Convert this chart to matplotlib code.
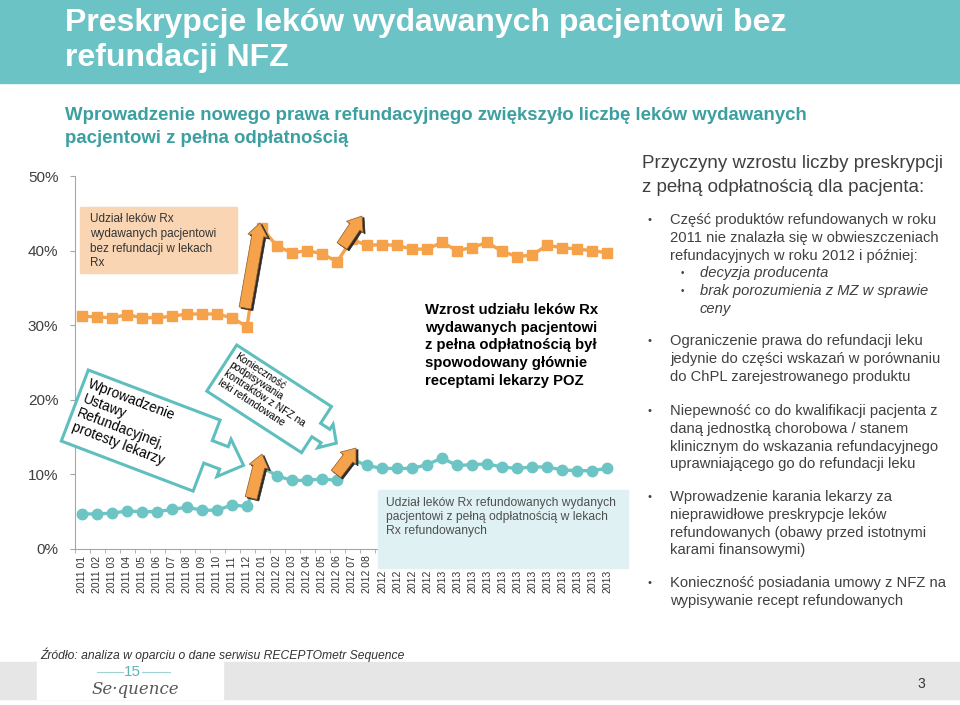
import numpy as np
import matplotlib
matplotlib.use("Agg")
import matplotlib.pyplot as plt
from matplotlib.patches import Rectangle, Polygon, FancyArrow

# months on the x axis
months = ([f"2011 {m:02d}" for m in range(1, 13)]
          + [f"2012 {m:02d}" for m in range(1, 9)]
          + ["2012"] * 4 + ["2013"] * 12)

# share of Rx drugs dispensed without reimbursement (%)
non_refund = [31.2, 31.1, 31.0, 31.4, 31.0, 31.0, 31.2, 31.5, 31.5, 31.5, 31.0, 29.8,
              43.0, 40.6, 39.7, 40.0, 39.6, 38.5, 41.5,
              40.7, 40.8, 40.7, 40.2, 40.2, 41.1, 40.0, 40.4, 41.1, 39.9, 39.2, 39.4,
              40.7, 40.4, 40.2, 40.0, 39.7]
# share of refundable Rx drugs dispensed at full price (%)
full_pay = [4.7, 4.7, 4.8, 5.1, 5.0, 5.0, 5.3, 5.6, 5.2, 5.2, 5.9, 5.7,
            11.0, 9.8, 9.2, 9.2, 9.4, 9.2, 12.0,
            11.2, 10.8, 10.8, 10.8, 11.3, 12.2, 11.2, 11.3, 11.4, 11.0, 10.8, 11.0,
            11.0, 10.6, 10.5, 10.5, 10.8]
y_ticks = [0, 10, 20, 30, 40, 50]

ORANGE = "#f6a24a"
TEAL = "#6cc5c4"
BANNER = "#6cc3c6"
DARK_TEAL = "#3c9fa0"
GREY_TXT = "#404040"

plt.rcParams["font.family"] = ["Liberation Sans", "DejaVu Sans"]

fig = plt.figure(figsize=(9.6, 7.05), dpi=100)

# chart axes (pixel geometry of the slide: x -0.5 -> 74.5px, y 0% -> 549px)
ax = fig.add_axes([74.5 / 960, 1 - 549 / 705, 540 / 960, 373 / 705])
x = np.arange(len(months))
ax.plot(x, non_refund, color=ORANGE, lw=2.4, marker="s", ms=7, zorder=3)
ax.plot(x, full_pay, color=TEAL, lw=2.4, marker="o", ms=7.5, zorder=3)
ax.set_xlim(-0.5, len(months) - 0.5)
ax.set_ylim(0, 50)
ax.set_facecolor("none")
for s in ["top", "right"]:
    ax.spines[s].set_visible(False)
for s in ["left", "bottom"]:
    ax.spines[s].set_color("#a6a6a6")
ax.set_yticks(y_ticks)
ax.set_yticklabels([f"{v}%" for v in y_ticks])
ax.tick_params(axis="y", length=3.6, color="#a6a6a6", pad=8, labelsize=11,
               labelcolor=GREY_TXT)
ax.set_xticks([])
ax.set_xticks(np.arange(-0.5, len(months), 1), minor=True)
ax.tick_params(axis="x", which="minor", length=3, color="#a6a6a6")
for i, lab in enumerate(months):
    ax.text(i, -(593 - 549) / 373, lab, transform=ax.get_xaxis_transform(),
            rotation=90, ha="center", va="bottom", fontsize=7.5, color="#333333")

# overlay in slide pixel coordinates
ov = fig.add_axes([0, 0, 1, 1], zorder=5)
ov.set_xlim(0, 960)
ov.set_ylim(705, 0)
ov.axis("off")
ov.patch.set_alpha(0)

# banner + titles
ov.add_patch(Rectangle((0, 0), 960, 83, color=BANNER, zorder=1))
ov.text(65, 31, "Preskrypcje leków wydawanych pacjentowi bez", fontsize=23,
        fontweight="bold", color="white", va="baseline")
ov.text(65, 66, "refundacji NFZ", fontsize=23, fontweight="bold",
        color="white", va="baseline")
ov.text(65, 120, "Wprowadzenie nowego prawa refundacyjnego zwiększyło liczbę leków wydawanych",
        fontsize=13.4, fontweight="bold", color=DARK_TEAL, va="baseline")
ov.text(65, 143, "pacjentowi z pełna odpłatnością", fontsize=13.4, fontweight="bold",
        color=DARK_TEAL, va="baseline")

ov.text(642, 168, "Przyczyny wzrostu liczby preskrypcji", fontsize=13.5,
        color=GREY_TXT, va="baseline")
ov.text(642, 192, "z pełną odpłatnością dla pacjenta:", fontsize=13.5,
        color=GREY_TXT, va="baseline")

# boxes
ov.add_patch(Rectangle((80, 207), 157, 66, color="#f9d5b3", zorder=2))
for k, line in enumerate(["Udział leków Rx", "wydawanych pacjentowi",
                          "bez refundacji w lekach", "Rx"]):
    ov.text(90, 219 + 14.8 * k, line, fontsize=8.5, color="#333333", va="center", zorder=3)

ov.add_patch(Rectangle((378, 490), 250, 78, color="#dff1f2", zorder=2))
for k, line in enumerate(["Udział leków Rx refundowanych wydanych",
                          "pacjentowi z pełną odpłatnością w lekach",
                          "Rx refundowanych"]):
    ov.text(386, 503 + 14.2 * k, line, fontsize=8.7, color="#505050", va="center", zorder=3)

for k, line in enumerate(["Wzrost udziału leków Rx", "wydawanych pacjentowi",
                          "z pełna odpłatnością był", "spowodowany głównie",
                          "receptami lekarzy POZ"]):
    ov.text(425, 310 + 17.7 * k, line, fontsize=10.7, fontweight="bold", color="black",
            va="center", zorder=3)

# right hand bullets
step = 17.8
blocks = [
    (220, ["Część produktów refundowanych w roku",
           "2011 nie znalazła się w obwieszczeniach",
           "refundacyjnych w roku 2012 i później:"],
     [["decyzja producenta"], ["brak porozumienia z MZ w sprawie", "ceny"]]),
    (341, ["Ograniczenie prawa do refundacji leku",
           "jedynie do części wskazań w porównaniu",
           "do ChPL zarejestrowanego produktu"], []),
    (411, ["Niepewność co do kwalifikacji pacjenta z",
           "daną jednostką chorobowa / stanem",
           "klinicznym do wskazania refundacyjnego",
           "uprawniającego go do refundacji leku"], []),
    (497, ["Wprowadzenie karania lekarzy za",
           "nieprawidłowe preskrypcje leków",
           "refundowanych (obawy przed istotnymi",
           "karami finansowymi)"], []),
    (583, ["Konieczność posiadania umowy z NFZ na",
           "wypisywanie recept refundowanych"], []),
]
for y0, lines, subs in blocks:
    ov.text(647, y0, "•", fontsize=8, color=GREY_TXT, va="center")
    yy = y0
    for line in lines:
        ov.text(670, yy, line, fontsize=10.6, color=GREY_TXT, va="center")
        yy += step
    for sub in subs:
        ov.text(681, yy, "•", fontsize=7, color=GREY_TXT, va="center")
        for line in sub:
            ov.text(700, yy, line, fontsize=10.6, style="italic", color=GREY_TXT, va="center")
            yy += step


# rotated arrow callouts
def callout(tl, ang, w, h, neck_end, tip, cy, neck_hw, head_hw, text, fs, pad, ls):
    a = np.radians(ang)
    u = np.array([np.cos(a), np.sin(a)])
    v = np.array([-np.sin(a), np.cos(a)])
    loc = [(0, 0), (w, 0), (w, cy - neck_hw), (neck_end, cy - neck_hw),
           (neck_end, cy - head_hw), (tip, cy), (neck_end, cy + head_hw),
           (neck_end, cy + neck_hw), (w, cy + neck_hw), (w, h), (0, h)]
    pts = [np.array(tl) + px * u + py * v for px, py in loc]
    ov.add_patch(Polygon(pts, closed=True, facecolor="white", edgecolor="#5fbfbf",
                         lw=2.2, joinstyle="miter", zorder=4))
    p = np.array(tl) + pad[0] * u + pad[1] * v
    ov.text(p[0], p[1], text, rotation=-ang, rotation_mode="anchor", ha="left",
            va="top", fontsize=fs, color="black", linespacing=ls, zorder=5)


callout((88.3, 370), 20.8, 141, 76, 158, 179, 34, 12, 20,
        "Wprowadzenie\nUstawy\nRefundacyjnej,\nprotesty lekarzy", 10, (5, 6), 1.1)
callout((236.7, 345), 33, 113, 55, 124, 137, 28, 8, 14,
        "Konieczność\npodpisywania\nkontraktów z NFZ na\nleki refundowane", 7.4, (5, 4), 1.05)

# orange block arrows marking the jumps
for (x0, y0), (x1, y1) in [((245, 308), (260, 223)), ((342, 246), (362, 216)),
                           ((251, 498), (262, 454)), ((336, 474), (356, 448))]:
    for dx, dy, col, z in [(2, 1.5, "#2b2b2b", 6), (0, 0, ORANGE, 7)]:
        ov.add_patch(FancyArrow(x0 + dx, y0 + dy, x1 - x0, y1 - y0, width=12,
                                head_width=20, head_length=13,
                                length_includes_head=True, facecolor=col,
                                edgecolor="#8a5a2a" if z == 7 else col, lw=0.5, zorder=z))

# footer
ov.text(40, 655, "Źródło: analiza w oparciu o dane serwisu RECEPTOmetr Sequence",
        fontsize=8.7, style="italic", color="#333333", va="center")
ov.add_patch(Rectangle((0, 662), 960, 37, color="#e6e6e6", zorder=1))
ov.add_patch(Rectangle((37, 662), 186, 37, color="white", zorder=2))
ov.plot([97, 123], [672, 672], color="#9fd3d3", lw=0.8, zorder=3)
ov.plot([142, 170], [672, 672], color="#9fd3d3", lw=0.8, zorder=3)
ov.text(132, 672, "15", fontsize=11, color="#5fb5b5", ha="center", va="center", zorder=3)
ov.text(135, 690, "Se·quence", fontsize=12, style="italic", family="DejaVu Serif",
        color="#555555", ha="center", va="center", zorder=3)
ov.text(921, 684, "3", fontsize=10, color="#333333", ha="center", va="center", zorder=3)

fig.savefig("out.png", dpi=100)
